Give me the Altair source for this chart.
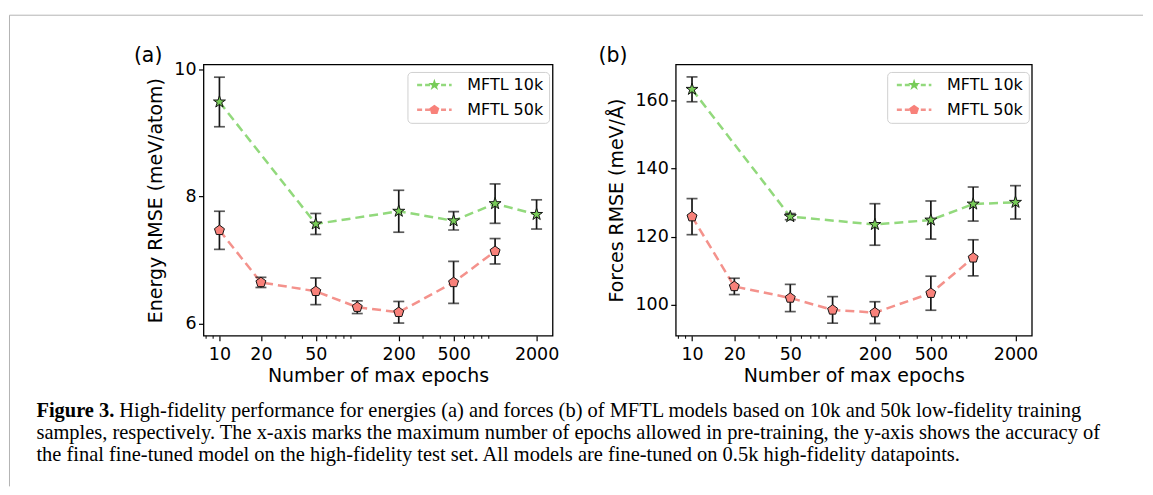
import altair as alt
import pandas as pd

# ---------------- data ----------------
series_names = ["MFTL 10k", "MFTL 50k"]

epochs_10k = [10, 50, 200, 500, 1000, 2000]
epochs_50k = [10, 20, 50, 100, 200, 500, 1000]

energy_10k = [9.49, 7.57, 7.77, 7.62, 7.89, 7.72]
energy_10k_err = [0.39, 0.165, 0.33, 0.145, 0.31, 0.23]
energy_50k = [7.47, 6.65, 6.51, 6.26, 6.18, 6.65, 7.14]
energy_50k_err = [0.30, 0.08, 0.21, 0.10, 0.17, 0.33, 0.20]

forces_10k = [163.3, 125.9, 123.6, 124.9, 129.6, 130.1]
forces_10k_err = [3.65, 0.9, 6.1, 5.6, 5.0, 4.9]
forces_50k = [125.9, 105.4, 102.0, 98.5, 97.7, 103.4, 113.8]
forces_50k_err = [5.3, 2.4, 4.0, 3.9, 3.2, 5.0, 5.3]

x_major_ticks = [10, 20, 50, 200, 500, 2000]
x_minor_ticks = [8, 9, 30, 40, 60, 70, 80, 90, 300, 400, 600, 700, 800, 900]
x_domain = [7.66, 2612]

energy_ticks = [6, 8, 10]
energy_domain = [5.81, 10.08]
forces_ticks = [100, 120, 140, 160]
forces_domain = [90.9, 170.6]

panel_tags = ["(a)", "(b)"]
y_titles = ["Energy RMSE (meV/atom)", "Forces RMSE (meV/Å)"]
x_title = "Number of max epochs"

caption_bold = ["Figure 3."]
caption_line1 = ["High-fidelity performance for energies (a) and forces (b) of MFTL models based on 10k and 50k low-fidelity training"]
caption_rest = ["samples, respectively. The x-axis marks the maximum number of epochs allowed in pre-training, the y-axis shows the accuracy of\nthe final fine-tuned model on the high-fidelity test set. All models are fine-tuned on 0.5k high-fidelity datapoints."]

# ---------------- styles ----------------
line_colors = ["#92d97c", "#f4928c"]
marker_fills = ["#78cc58", "#f8817a"]
STAR = "M0,-1.2L0.27,-0.371L1.141,-0.371L0.436,0.142L0.705,0.971L0,0.458L-0.705,0.971L-0.436,0.142L-1.141,-0.371L-0.27,-0.371Z"
PENTAGON = "M0,-1L0.951,-0.309L0.588,0.809L-0.588,0.809L-0.951,-0.309Z"
FONT = "DejaVu Sans"
SERIF = "Liberation Serif"
CAP_SIZE = 20.5
H = 272
W_A, W_B = 350, 357


def make_df(e10, v10, s10, e50, v50, s50):
    rows = []
    for e, v, s in zip(e10, v10, s10):
        rows.append({"epochs": e, "rmse": v, "lo": v - s, "hi": v + s, "series": series_names[0]})
    for e, v, s in zip(e50, v50, s50):
        rows.append({"epochs": e, "rmse": v, "lo": v - s, "hi": v + s, "series": series_names[1]})
    return pd.DataFrame(rows)


def panel(df, width, ydomain, yticks, ytitle, tag, tag_x, legend_x, with_frame):
    x_scale = alt.Scale(type="log", domain=x_domain, nice=False)
    x_axis = alt.Axis(values=x_major_ticks, format="d", title=x_title, labelPadding=4.5,
                      titlePadding=4, grid=False)
    y_scale = alt.Scale(domain=ydomain, nice=False, zero=False)
    y_axis = alt.Axis(values=yticks, format="d", title=ytitle, labelPadding=2.5,
                      titlePadding=8, grid=False)

    def X(field):
        return alt.X(field, scale=x_scale, axis=x_axis, title=x_title)

    def Y(field):
        return alt.Y(field, scale=y_scale, axis=y_axis, title=ytitle)

    base = alt.Chart(df)
    leg_common = dict(title=None, orient="none", legendX=legend_x, legendY=7.5,
                      symbolSize=110, symbolOffset=14, labelOffset=25,
                      labelFont=FONT, labelFontSize=16, labelColor="black",
                      rowPadding=9, padding=5)

    lines = base.mark_line(strokeDash=[9, 5], strokeWidth=2.5).encode(
        x=X("epochs:Q"), y=Y("rmse:Q"),
        color=alt.Color("series:N",
                        scale=alt.Scale(domain=series_names, range=line_colors),
                        legend=alt.Legend(symbolType="M-3.3,0L3.3,0", symbolStrokeWidth=2.5,
                                          symbolDash=[5, 3], strokeColor="#d0d0d0",
                                          fillColor="white", cornerRadius=4, **leg_common)),
    )
    errs = base.mark_errorbar(ticks=True, size=11, thickness=1.7, color="#151515").encode(
        x=X("epochs:Q"), y=Y("lo:Q"), y2="hi:Q"
    )
    pts_leg = alt.Legend(labelOpacity=0, symbolStrokeColor="#151515", symbolStrokeWidth=1,
                         **leg_common)
    points = base.mark_point(filled=True, size=110, stroke="#151515", strokeWidth=1,
                             opacity=1).encode(
        x=X("epochs:Q"), y=Y("rmse:Q"),
        fill=alt.Fill("series:N", scale=alt.Scale(range=marker_fills), legend=pts_leg),
        shape=alt.Shape("series:N", scale=alt.Scale(range=[STAR, PENTAGON]), legend=pts_leg),
    )
    minor = alt.Chart(pd.DataFrame({"m": x_minor_ticks})).mark_rule(
        color="black", strokeWidth=1).encode(
        x=X("m:Q"), y=alt.value(H), y2=alt.value(H + 3)
    )
    tag_mark = alt.Chart(pd.DataFrame({"t": [tag]})).mark_text(
        font=FONT, fontSize=20.5, align="center", baseline="middle", color="black").encode(
        x=alt.value(tag_x), y=alt.value(-8.5), text="t:N"
    )
    layers = [lines, errs, points, minor, tag_mark]
    if with_frame:
        frame_left = alt.Chart(pd.DataFrame({"k": [0]})).mark_rule(
            color="#b4b4b4", strokeWidth=1).encode(
            x=alt.value(-194.5), y=alt.value(-49.4), y2=alt.value(423))
        frame_top = alt.Chart(pd.DataFrame({"k": [0]})).mark_rule(
            color="#b4b4b4", strokeWidth=1).encode(
            x=alt.value(-194.5), x2=alt.value(942), y=alt.value(-49.4))
        cap_b = alt.Chart(pd.DataFrame({"t": caption_bold})).mark_text(
            font=SERIF, fontSize=CAP_SIZE, fontWeight="bold", align="left", baseline="middle",
            color="black").encode(x=alt.value(-167.5), y=alt.value(347.3), text="t:N")
        cap_1 = alt.Chart(pd.DataFrame({"t": caption_line1})).mark_text(
            font=SERIF, fontSize=CAP_SIZE, align="left", baseline="middle",
            color="black").encode(x=alt.value(-84.5), y=alt.value(347.3), text="t:N")
        cap_r = alt.Chart(pd.DataFrame({"t": caption_rest})).mark_text(
            font=SERIF, fontSize=CAP_SIZE, align="left", baseline="middle", lineBreak="\n",
            lineHeight=22, color="black").encode(x=alt.value(-167.5), y=alt.value(369.3), text="t:N")
        layers += [frame_left, frame_top, cap_b, cap_1, cap_r]
    return alt.layer(*layers).properties(width=width, height=H)


df_energy = make_df(epochs_10k, energy_10k, energy_10k_err, epochs_50k, energy_50k, energy_50k_err)
df_forces = make_df(epochs_10k, forces_10k, forces_10k_err, epochs_50k, forces_50k, forces_50k_err)

panel_a = panel(df_energy, W_A, energy_domain, energy_ticks, y_titles[0], panel_tags[0], -55.5, 204.5, True)
panel_b = panel(df_forces, W_B, forces_domain, forces_ticks, y_titles[1], panel_tags[1], -63, 212, False)

chart = alt.hconcat(panel_a, panel_b, spacing=123.5, bounds="flush").resolve_scale(
    color="independent", fill="independent", shape="independent"
).resolve_legend(
    color="independent", fill="independent", shape="independent"
).properties(
    padding={"left": 0, "top": 5, "right": 0, "bottom": 0},
    background="white",
).configure_view(
    stroke="black", strokeWidth=1.3
).configure_axis(
    labelFont=FONT, labelFontSize=17.5, labelColor="black",
    titleFont=FONT, titleFontSize=19, titleFontWeight="normal", titleColor="black",
    tickColor="black", tickSize=5, tickWidth=1.2, domain=False,
)

chart.save("out.html", embed_options={"renderer": "svg", "actions": False})
